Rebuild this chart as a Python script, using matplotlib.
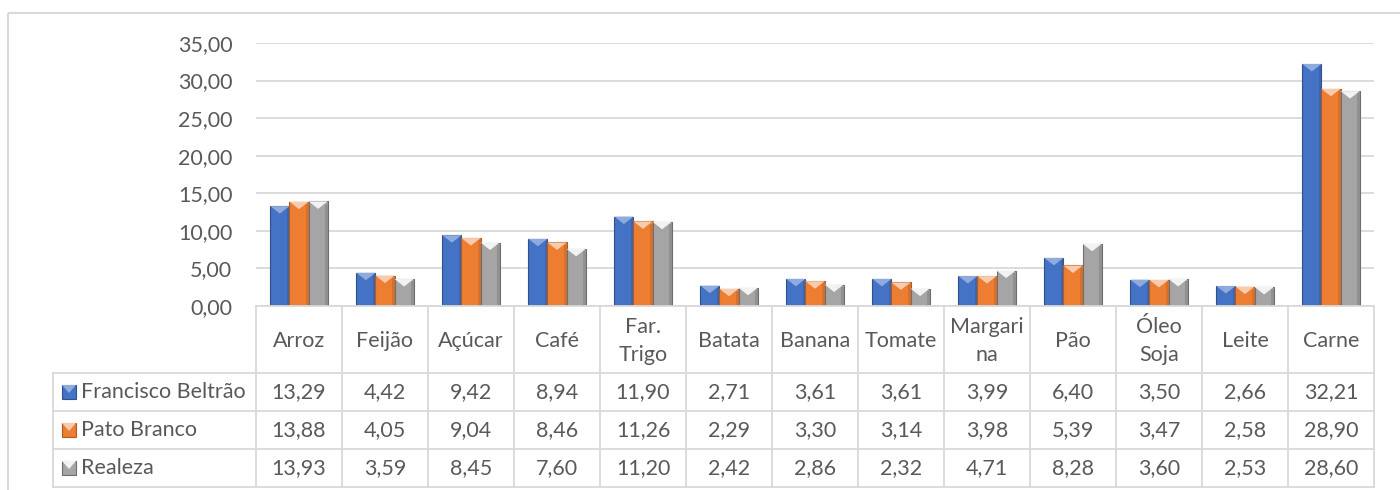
import matplotlib
matplotlib.use("Agg")
import matplotlib.pyplot as plt
from matplotlib.patches import Rectangle, Polygon
import numpy as np

plt.rcParams['font.family'] = ['Lato', 'DejaVu Sans']

categories = ["Arroz", "Feijão", "Açúcar", "Café", "Far.\nTrigo", "Batata", "Banana",
              "Tomate", "Margari\nna", "Pão", "Óleo\nSoja", "Leite", "Carne"]
series_names = ["Francisco Beltrão", "Pato Branco", "Realeza"]
francisco = [13.29, 4.42, 9.42, 8.94, 11.90, 2.71, 3.61, 3.61, 3.99, 6.40, 3.50, 2.66, 32.21]
pato = [13.88, 4.05, 9.04, 8.46, 11.26, 2.29, 3.30, 3.14, 3.98, 5.39, 3.47, 2.58, 28.90]
realeza = [13.93, 3.59, 8.45, 7.60, 11.20, 2.42, 2.86, 2.32, 4.71, 8.28, 3.60, 2.53, 28.60]
yticks = [0, 5, 10, 15, 20, 25, 30, 35]

series = [francisco, pato, realeza]
colors = ["#4472C4", "#ED7D31", "#A5A5A5"]
dark = ["#2F528F", "#AE5A21", "#6E6E6E"]
light = ["#8FAADC", "#F8CBAD", "#F2F2F2"]
text_c = "#595959"
grid_c = "#D9D9D9"
fs = 15.5

W, H = 1400, 490
fig = plt.figure(figsize=(W / 100, H / 100), dpi=100)

# pixel layout
ax_l, ax_r, ax_b, ax_t = 256, 1374, 306, 43
tbl_left = 53
row_h = 38
hdr_bot = 373

ax = fig.add_axes([ax_l / W, 1 - ax_b / H, (ax_r - ax_l) / W, (ax_b - ax_t) / H])
n = len(categories)
x = np.arange(n)
bw = 1 / 4.5
ax.set_xlim(-0.5, n - 0.5)
ax.set_ylim(0, 35)
tri_h = 1.0
for s, vals in enumerate(series):
    off = (s - 1) * bw
    bars = ax.bar(x + off, vals, width=bw, color=colors[s], edgecolor=dark[s], linewidth=0.8, zorder=3)
    for xi, v in zip(x + off, vals):
        x0, x1 = xi - bw / 2, xi + bw / 2
        ax.add_patch(Polygon([(x0, v), (x1, v), (xi, v - tri_h)], closed=True,
                             facecolor=light[s], edgecolor='none', zorder=4))
        ax.add_patch(Rectangle((x1 - bw * 0.12, 0), bw * 0.12, v - tri_h * 0.3,
                               facecolor=dark[s], alpha=0.35, edgecolor='none', zorder=4))
ax.set_yticks(yticks)
ax.set_yticklabels([f"{t:.2f}".replace('.', ',') for t in yticks], color=text_c, fontsize=fs)
ax.tick_params(axis='y', length=0, pad=17)
ax.tick_params(axis='x', length=0, labelbottom=False)
ax.grid(axis='y', color=grid_c, linewidth=1.3, zorder=0)
for sp in ax.spines.values():
    sp.set_visible(False)

# overlay in pixel coordinates for the frame and data table
ov = fig.add_axes([0, 0, 1, 1], zorder=-1)
ov.set_xlim(0, W)
ov.set_ylim(H, 0)
ov.axis('off')
ov.add_patch(Rectangle((8, 13), W, H, fill=False, edgecolor=grid_c, linewidth=1.5))

tb = fig.add_axes([0, 0, 1, 1], zorder=5)
tb.set_xlim(0, W)
tb.set_ylim(H, 0)
tb.axis('off')
tb.patch.set_alpha(0)
cw = (ax_r - ax_l) / n
lc = grid_c
lw = 1.3
# horizontal lines
tb.plot([ax_l, ax_r], [ax_b, ax_b], color=lc, lw=lw)
for r in range(4):
    yy = hdr_bot + r * row_h
    tb.plot([tbl_left, ax_r], [yy, yy], color=lc, lw=lw)
# vertical lines
for i in range(n + 1):
    xx = ax_l + i * cw
    tb.plot([xx, xx], [ax_b, hdr_bot + 3 * row_h], color=lc, lw=lw)
tb.plot([tbl_left, tbl_left], [hdr_bot, hdr_bot + 3 * row_h], color=lc, lw=lw)

for i, c in enumerate(categories):
    cx = ax_l + (i + 0.5) * cw
    tb.text(cx, (ax_b + hdr_bot) / 2 + 1, c, ha='center', va='center', color=text_c,
            fontsize=fs, linespacing=1.5)
for s, vals in enumerate(series):
    cy = hdr_bot + (s + 0.5) * row_h
    for i, v in enumerate(vals):
        cx = ax_l + (i + 0.5) * cw
        tb.text(cx, cy, f"{v:.2f}".replace('.', ','), ha='center', va='center',
                color=text_c, fontsize=fs)
    # legend key
    k0, ks = 62, 14
    tb.add_patch(Rectangle((k0, cy - ks / 2), ks, ks, facecolor=colors[s], edgecolor=dark[s], lw=0.8))
    tb.add_patch(Polygon([(k0, cy - ks / 2), (k0 + ks, cy - ks / 2), (k0 + ks / 2, cy + 1)],
                         closed=True, facecolor=light[s], edgecolor='none'))
    tb.text(81, cy, series_names[s], ha='left', va='center', color=text_c, fontsize=fs)

fig.savefig("out.png", dpi=100)
